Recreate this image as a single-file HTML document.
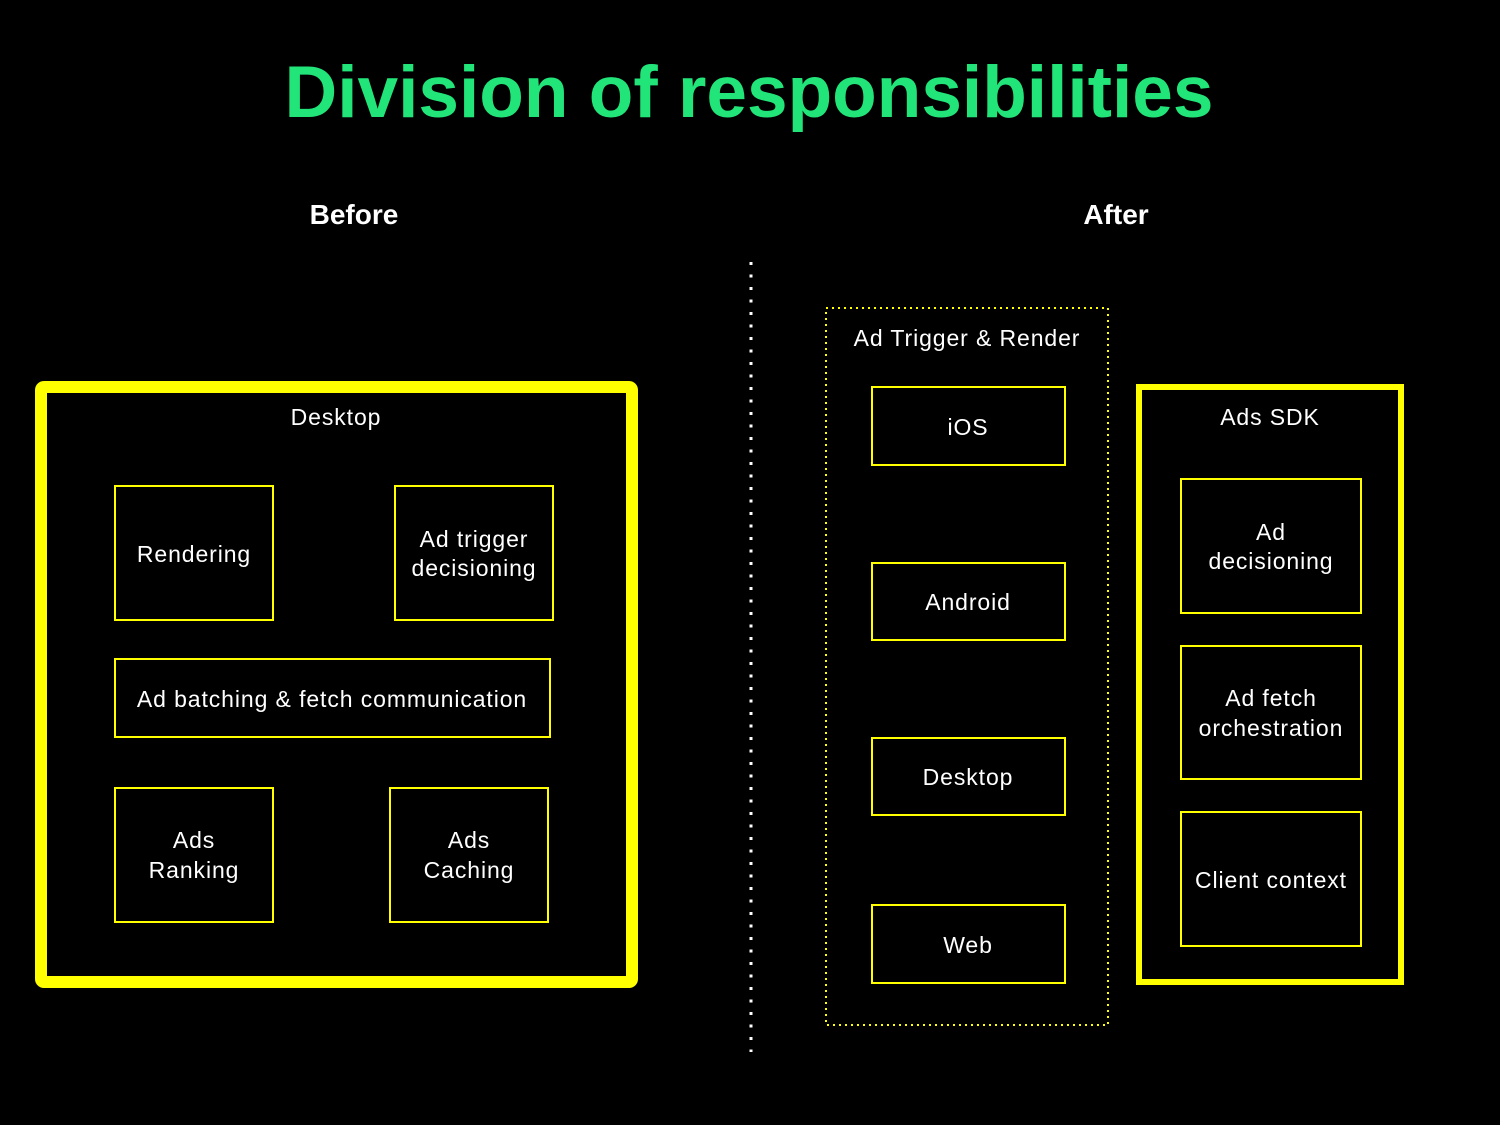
<!DOCTYPE html>
<html><head><style>body{margin:0;background:#000}svg{display:block}</style></head><body>
<svg width="1500" height="1125" viewBox="0 0 1500 1125" xmlns="http://www.w3.org/2000/svg" font-family="Liberation Sans, sans-serif">
<rect width="1500" height="1125" fill="#000"/>
<text x="749" y="117" text-anchor="middle" font-size="73" font-weight="bold" fill="#22e57a">Division of responsibilities</text>
<text x="354" y="224" text-anchor="middle" font-size="28" font-weight="bold" fill="#fff">Before</text>
<text x="1116" y="224" text-anchor="middle" font-size="28" font-weight="bold" fill="#fff">After</text>
<line x1="751" y1="262" x2="751" y2="1052" stroke="#fff" stroke-width="3" stroke-dasharray="3 9.5"/>
<rect x="41" y="387" width="591" height="595" fill="none" stroke="#ffff00" stroke-width="12" rx="3"/>
<g fill="none" stroke="#ffff00" stroke-width="2">
<rect x="115" y="486" width="158" height="134"/>
<rect x="395" y="486" width="158" height="134"/>
<rect x="115" y="659" width="435" height="78"/>
<rect x="115" y="788" width="158" height="134"/>
<rect x="390" y="788" width="158" height="134"/>
<rect x="872" y="387" width="193" height="78"/>
<rect x="872" y="563" width="193" height="77"/>
<rect x="872" y="738" width="193" height="77"/>
<rect x="872" y="905" width="193" height="78"/>
<rect x="1181" y="479" width="180" height="134"/>
<rect x="1181" y="646" width="180" height="133"/>
<rect x="1181" y="812" width="180" height="134"/>
</g>
<rect x="826" y="308" width="282" height="717" fill="none" stroke="#ffff00" stroke-width="2" stroke-dasharray="2 4"/>
<rect x="1139" y="387" width="262" height="595" fill="none" stroke="#ffff00" stroke-width="6"/>
<g font-size="23" fill="#fff" text-anchor="middle" letter-spacing="0.9">
<text x="336" y="425">Desktop</text>
<text x="194" y="562">Rendering</text>
<text x="474" y="547">Ad trigger</text>
<text x="474" y="576">decisioning</text>
<text x="332" y="707">Ad batching &amp; fetch communication</text>
<text x="194" y="848">Ads</text>
<text x="194" y="878">Ranking</text>
<text x="469" y="848">Ads</text>
<text x="469" y="878">Caching</text>
<text x="967" y="346">Ad Trigger &amp; Render</text>
<text x="968" y="435">iOS</text>
<text x="968" y="610">Android</text>
<text x="968" y="785">Desktop</text>
<text x="968" y="953">Web</text>
<text x="1270" y="425">Ads SDK</text>
<text x="1271" y="540">Ad</text>
<text x="1271" y="569">decisioning</text>
<text x="1271" y="706">Ad fetch</text>
<text x="1271" y="736">orchestration</text>
<text x="1271" y="888">Client context</text>
</g>
</svg>
</body></html>
